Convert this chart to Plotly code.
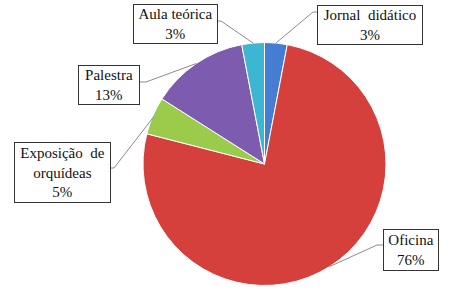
import math
import plotly.graph_objects as go

W, H = 458, 298

labels = ["Jornal didático", "Oficina", "Exposição de orquídeas", "Palestra", "Aula teórica"]
box_text = ["Jornal  didático<br>3%", "Oficina<br>76%", "Exposição  de<br>orquídeas<br>5%",
            "Palestra<br>13%", "Aula teórica<br>3%"]
values = [3, 76, 5, 13, 3]
colors = ["#447DD2", "#D5403D", "#9ACB4A", "#7D5BAE", "#3DB6D4"]

# layout (pixels)
cx, cy, R = 264.5, 164.0, 121.5
box_center = [(370, 25), (411, 250), (62, 172), (109, 85), (175, 24)]
box_size = [(106, 40), (56, 42), (97, 61), (62, 40), (85, 40)]
stub = [((318, 12), (313, 12)), ((383, 245), (377, 245)), ((110, 168), (114, 168)),
        ((140, 82), (146, 82)), ((218, 21), (221, 21))]
reach = [1.0, 1.0, 0.99, 1.0, 1.0]

def px(x):
    return x / W

def py(y):
    return 1 - y / H

fig = go.Figure(go.Pie(
    labels=labels, values=values, sort=False, direction="clockwise", rotation=0,
    marker=dict(colors=colors, line=dict(color="white", width=1)),
    textinfo="none", hoverinfo="label+percent", showlegend=False,
    domain=dict(x=[px(cx - R), px(cx + R)], y=[py(cy + R), py(cy - R)]),
))

total = sum(values)
cum = 0
shapes = []
annotations = []
for i, v in enumerate(values):
    mid = (cum + v / 2) / total * 2 * math.pi
    cum += v
    ex = cx + R * reach[i] * math.sin(mid)
    ey = cy - R * reach[i] * math.cos(mid)
    (sx0, sy0), (sx1, sy1) = stub[i]
    shapes.append(dict(type="path", xref="paper", yref="paper",
                       path=f"M {px(sx0)},{py(sy0)} L {px(sx1)},{py(sy1)} L {px(ex)},{py(ey)}",
                       line=dict(color="#8C8C8C", width=1)))
    bx, by = box_center[i]
    bw, bh = box_size[i]
    annotations.append(dict(x=px(bx), y=py(by), xref="paper", yref="paper",
                            xanchor="center", yanchor="middle",
                            text=box_text[i], showarrow=False, align="center",
                            width=bw - 2, height=bh - 2, borderpad=0,
                            bordercolor="#333333", borderwidth=1, bgcolor="white",
                            font=dict(family="Times New Roman, Liberation Serif, serif",
                                      size=15, color="#111111")))

fig.update_layout(width=W, height=H, margin=dict(l=0, r=0, t=0, b=0),
                  paper_bgcolor="white", plot_bgcolor="white",
                  shapes=shapes, annotations=annotations)
fig.write_html("out.html", config={"displayModeBar": False},
               post_script="document.body.style.margin='0';")
